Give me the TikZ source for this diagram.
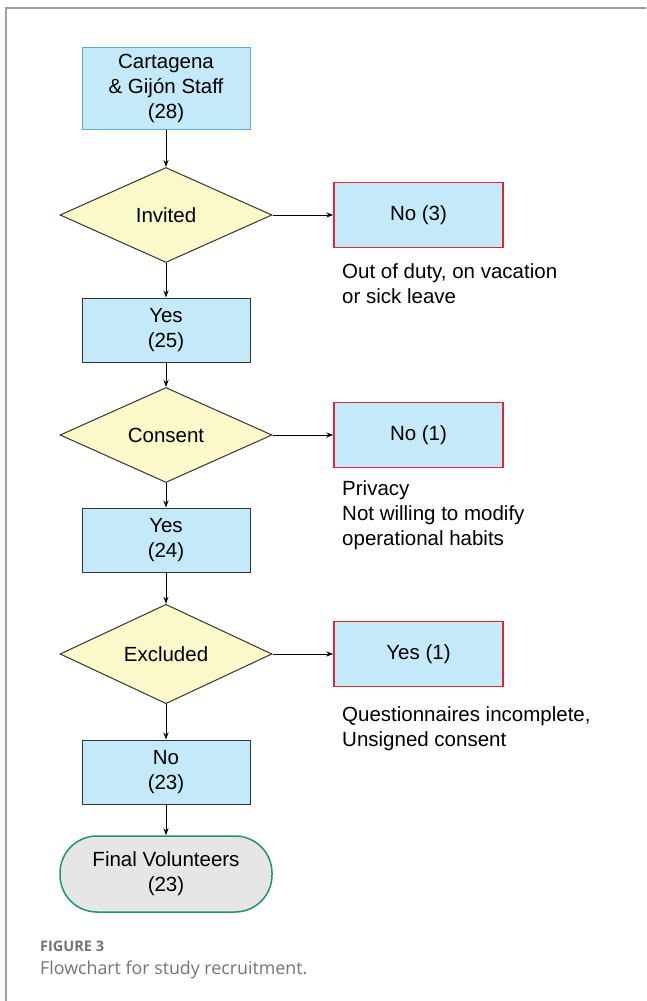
\documentclass[tikz,border=0pt]{standalone}
\usepackage{fontspec}
\setmainfont{Liberation Sans}
\newfontfamily\captionfont{Open Sans}
\usetikzlibrary{shapes.geometric,arrows.meta}

\definecolor{boxblue}{HTML}{C4E9F8}
\definecolor{edgeblue}{HTML}{5AACDF}
\definecolor{diayellow}{HTML}{FBF8C9}
\definecolor{outred}{HTML}{E3262B}
\definecolor{endgreen}{HTML}{1F9470}
\definecolor{endgrey}{HTML}{E6E6E6}
\definecolor{framegrey}{HTML}{A0A0A0}
\definecolor{captiongrey}{HTML}{737373}

\tikzset{
	stepbox/.style={draw=black!80, line width=1pt, fill=boxblue, minimum width=168pt, minimum height=64pt, align=center, inner sep=0pt},
	startbox/.style={stepbox, draw=edgeblue, minimum height=82pt},
	outbox/.style={stepbox, draw=outred, line width=1.5pt, minimum width=169pt, minimum height=65pt},
	question/.style={diamond, draw=black!80, line width=1pt, fill=diayellow, minimum width=212pt, minimum height=95pt, inner sep=0pt},
	finalbox/.style={draw=endgreen, line width=1.5pt, fill=endgrey, rounded corners=37pt, minimum width=212pt, minimum height=76pt, align=center, inner sep=0pt},
	reason/.style={anchor=north west, align=left, inner sep=0pt},
	flow/.style={line width=1pt, -{Stealth[length=7pt,width=5pt]}},
}

\begin{document}
\begin{tikzpicture}[x=1pt,y=-1pt,font=\fontsize{20.5}{25}\selectfont]
		\useasboundingbox (0,0) rectangle (646,1001);
		%% Frame
		\draw[framegrey, line width=1.5pt] (646,8) -- (6,8) -- (6,1001);
		%% Main column
		\node[startbox] (staff) at (166,88) {Cartagena\\\& Gijón Staff\\(28)};
		\node[question] (invited) at (166,215) {Invited};
		\node[stepbox] (yes25) at (166,330) {Yes\\(25)};
		\node[question] (consent) at (166,435) {Consent};
		\node[stepbox] (yes24) at (166,540) {Yes\\(24)};
		\node[question] (excluded) at (166,654) {Excluded};
		\node[stepbox] (no23) at (166,772) {No\\(23)};
		\node[finalbox] (final) at (166,874) {Final Volunteers\\(23)};
		%% Side column
		\node[outbox] (no3) at (418.5,215) {No (3)};
		\node[outbox] (no1) at (418.5,435) {No (1)};
		\node[outbox] (yes1) at (418.5,654) {Yes (1)};
		\node[reason] (whyno3) at (342,263) {Out of duty, on vacation\\or sick leave};
		\node[reason] (whyno1) at (342,480) {Privacy\\Not willing to modify\\operational habits};
		\node[reason] (whyyes1) at (342,706) {Questionnaires incomplete,\\Unsigned consent};
		%% Arrows
		\draw[flow] (staff) -- (invited);
		\draw[flow] (invited) -- (yes25);
		\draw[flow] (yes25) -- (consent);
		\draw[flow] (consent) -- (yes24);
		\draw[flow] (yes24) -- (excluded);
		\draw[flow] (excluded) -- (no23);
		\draw[flow] (no23) -- (final);
		\draw[flow] (invited) -- (no3);
		\draw[flow] (consent) -- (no1);
		\draw[flow] (excluded) -- (yes1);
		%% Caption
		\node[anchor=base west, inner sep=0pt, text=captiongrey, font=\captionfont\bfseries\fontsize{14.5}{17}\selectfont] (figno) at (40,951) {FIGURE 3};
		\node[anchor=base west, inner sep=0pt, text=captiongrey, font=\captionfont\fontsize{17.8}{20}\selectfont] (figtitle) at (40,974) {Flowchart for study recruitment.};
	\end{tikzpicture}
\end{document}
